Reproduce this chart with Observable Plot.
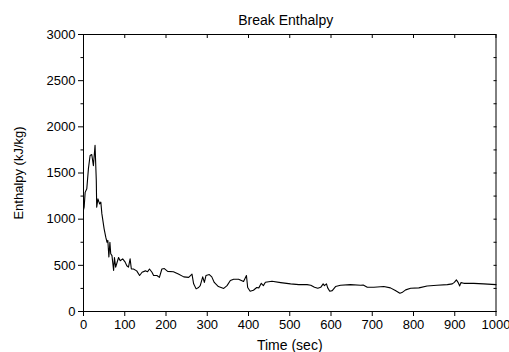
<!DOCTYPE html>
<html>
<head>
<meta charset="utf-8">
<script src="https://cdn.jsdelivr.net/npm/d3@7"></script>
<script src="https://cdn.jsdelivr.net/npm/@observablehq/plot@0.6"></script>
<style>
  html, body { margin: 0; padding: 0; background: #fff; }
</style>
</head>
<body>
<div id="chart"></div>
<script>
const titleText = "Break Enthalpy";
const xLabel = "Time (sec)";
const yLabel = "Enthalpy (kJ/kg)";

const xTicks = [0, 100, 200, 300, 400, 500, 600, 700, 800, 900, 1000];
const yTicks = [0, 500, 1000, 1500, 2000, 2500, 3000];
const yMinorTicks = [250, 750, 1250, 1750, 2250, 2750];
const yAllTicks = [0, 250, 500, 750, 1000, 1250, 1500, 1750, 2000, 2250, 2500, 2750, 3000];

const time = [
  0, 1.6, 4, 8, 12, 16, 20, 24, 28, 31,
  32, 35, 39, 42, 44.5, 50, 54, 57, 59, 61.5,
  64, 66, 69, 73, 75, 78, 85, 89, 95, 101,
  105, 109, 113, 116, 121, 129, 136, 142, 150, 155,
  160, 166, 170, 178, 184, 190, 196, 204, 218, 230,
  243, 255, 263, 267, 273, 279, 283, 289, 293, 297,
  305, 311, 317, 327, 340, 348, 356, 364, 376, 388,
  395, 398, 404, 412, 420, 425, 431, 436, 441, 457,
  478, 502, 522, 542, 551, 560, 568, 575, 581, 584,
  589, 592, 597, 603, 611, 623, 647, 672, 678, 688,
  704, 728, 744, 756, 767, 772, 781, 793, 813, 833,
  857, 882, 894, 899, 904, 908, 912, 915, 922, 946,
  970, 1000
];
const enthalpy = [
  1100, 1130, 1290, 1330, 1550, 1690, 1700, 1580, 1800, 1420,
  1130, 1220, 1165, 1185, 1060, 895, 805, 750, 770, 590,
  750, 625, 605, 445, 585, 480, 585, 550, 570, 535,
  495, 480, 570, 460, 460, 440, 390, 425, 440, 430,
  460, 425, 390, 390, 370, 460, 465, 435, 430, 405,
  375, 370, 405, 300, 245, 260, 280, 375, 315, 390,
  400, 375, 315, 270, 250, 280, 335, 350, 350, 325,
  390, 260, 220, 230, 260, 256, 305, 280, 316, 327,
  313, 299, 291, 291, 285, 262, 251, 262, 299, 280,
  299, 256, 219, 226, 270, 284, 291, 284, 287, 262,
  262, 270, 256, 227, 198, 205, 234, 251, 256, 277,
  284, 291, 299, 316, 342, 316, 277, 313, 305, 305,
  299, 291
];

const data = time.map((t, i) => ({t, v: enthalpy[i]}));
const font = "'Liberation Sans', Arial, sans-serif";

const chart = Plot.plot({
  width: 509,
  height: 352,
  marginLeft: 83,
  marginRight: 13.5,
  marginTop: 34,
  marginBottom: 41,
  style: {fontFamily: font, fontSize: "13px", color: "#000", background: "#fff"},
  x: {domain: [0, 1000]},
  y: {domain: [0, 3000]},
  marks: [
    Plot.frame({stroke: "#000", strokeWidth: 1}),
    Plot.axisX({ticks: xTicks, tickSize: 5, tickPadding: 3, tickFormat: d => String(d), label: null, fontSize: 13}),
    Plot.axisX({anchor: "top", ticks: xTicks, tickSize: -3, tickFormat: () => "", label: null}),
    Plot.axisY({ticks: yTicks, tickSize: 5, tickPadding: 3, tickFormat: d => String(d), label: null, fontSize: 13}),
    Plot.axisY({ticks: yMinorTicks, tickSize: 2.5, tickFormat: () => "", label: null}),
    Plot.axisY({anchor: "right", ticks: yAllTicks, tickSize: -3, tickFormat: () => "", label: null}),
    Plot.line(data, {x: "t", y: "v", stroke: "#000", strokeWidth: 1.1}),
    Plot.text([titleText], {frameAnchor: "top", dy: -14, dx: -4, lineAnchor: "middle", fontSize: 14, fill: "#000"}),
    Plot.text([xLabel], {frameAnchor: "bottom", dy: 34, lineAnchor: "middle", fontSize: 14, fill: "#000"}),
    Plot.text([yLabel], {frameAnchor: "left", dx: -65, rotate: -90, textAnchor: "middle", lineAnchor: "middle", fontSize: 13, fill: "#000"})
  ]
});
document.getElementById("chart").appendChild(chart);
</script>
</body>
</html>
